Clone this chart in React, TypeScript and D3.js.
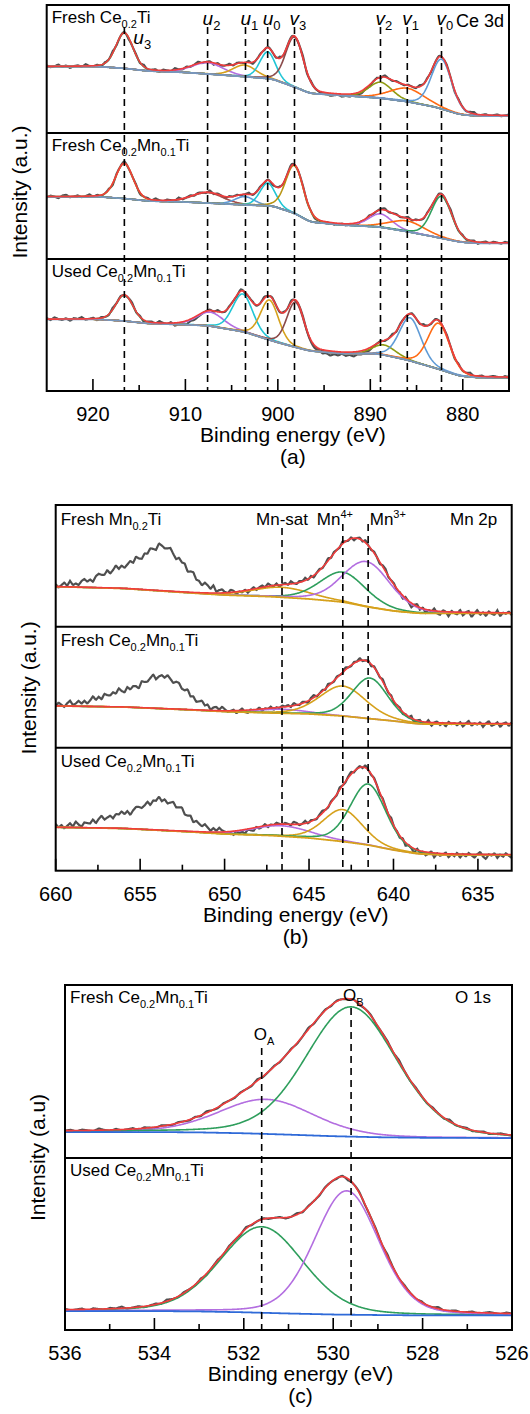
import React from 'react';
import * as d3 from 'd3';

const FONT = "'Liberation Sans', Arial, Helvetica, sans-serif";

// ---------------- (a) Ce 3d ----------------
const ceLineNames = ['u3', 'u2', 'u1', 'u0', 'v3', 'v2', 'v1', 'v0'];
const ceLineEnergy = [916.6, 907.6, 903.5, 901.1, 898.2, 888.9, 886.0, 882.3];
const ceMajor = [920, 910, 900, 890, 880];
const ceMinor = [915, 905, 895, 885];
const ceBgEnergy = [925, 919.5, 916.6, 914, 910, 907.6, 903.6, 900.6, 898.2, 896.5, 893, 889, 886, 883, 880.3, 878.5, 875];

const ceTiLabel = ['Fresh Ce', '0.2', 'Ti'];
const ceTiBg = [51.9, 51.9, 50.5, 48.4, 47.3, 46.1, 44.0, 42.2, 35.9, 30.9, 29.3, 27.3, 24.5, 20.3, 14.5, 13.3, 13.3];
const ceTiCenter = [916.6, 907.6, 903.6, 901.1, 898.2, 888.9, 886.0, 882.3];
const ceTiHeight = [27.6, 8.8, 9.1, 20.9, 39.0, 12.5, 10.5, 38.8];
const ceTiFwhm = [2.2, 4.0, 3.0, 2.0, 2.3, 3.0, 4.5, 2.6];
const ceTiNoise = [
  1, -1, 0, 2, -1, 1, -2, 0, 1, -1, 2, 0, -1, 1, -2, 1, 0, 2, -1, 0,
  1, -2, 0, 1, -1, 2, -1, 0, 1, -2, 1, 0, -1, 2, 0, -1, 1, -1, 0, 2,
  -1, 0, 1, -2, 1, -1, 0, 2, -1, 1, 0, -1, 2, -2, 0, 1, -1, 1, 0, -1,
  2, -1, 0, 1, -1, 0, 2, -2, 1, 0, -1, -2, -1, -3, -2, -1, -3, -2, -3, -1,
  -2, -3, -1, -2, 0, 1, -1, 2, 0, -1, 1, 0, -1, 1, 0, -1, 2, 0, 1, -1,
  0, 1, -1, 1, 0, -2, 1, 0, -1, 1, 2, -1, 0, 1, -1, 0, 1, -1, 0, 1,
];

const ceMnFreshLabel = ['Fresh Ce', '0.2', 'Mn', '0.1', 'Ti'];
const ceMnFreshBg = [49.4, 49.4, 48.0, 46.0, 45.2, 44.4, 42.9, 42.1, 36.3, 29.4, 27.0, 25.4, 21.7, 17.5, 13.5, 12.5, 12.5];
const ceMnFreshCenter = [916.6, 907.6, 903.6, 901.1, 898.2, 888.9, 886.0, 882.3];
const ceMnFreshHeight = [27.9, 8.2, 6.6, 18.0, 38.1, 10.6, 8.5, 33.3];
const ceMnFreshFwhm = [2.2, 4.0, 2.5, 2.0, 2.3, 3.0, 4.5, 2.6];
const ceMnFreshNoise = [
  -1, 1, 0, -2, 1, 2, -1, 0, 1, -1, 0, 2, -1, 1, -1, 0, 1, -2, 1, 0,
  2, -1, 0, 1, -2, 0, 1, -1, 2, 0, -1, 1, 0, -1, 2, -1, 0, 1, -1, 1,
  0, -1, 2, -1, 1, 0, -2, 1, 0, 1, -1, 0, 2, -1, 0, 1, -1, 1, -2, 0,
  1, -1, 0, 2, -1, 0, 1, -1, 0, -2, -1, -2, 0, -1, -2, -1, 0, -2, -1, -1,
  -2, 0, -1, 1, -1, 0, 1, 2, -1, 0, 1, -1, 0, 2, -1, 1, 0, -1, 1, 0,
  -1, 1, 0, -1, 2, 0, -1, 1, -1, 0, 1, -2, 0, 1, -1, 1, 0, -1, 1, 0,
];

const ceMnUsedLabel = ['Used Ce', '0.2', 'Mn', '0.1', 'Ti'];
const ceMnUsedBg = [54.3, 54.3, 53.0, 51.1, 50.2, 49.5, 44.7, 37.9, 33.3, 30.3, 28.4, 28.0, 23.5, 17.4, 11.4, 10.2, 10.1];
const ceMnUsedCenter = [916.6, 907.3, 903.8, 900.9, 898.1, 888.5, 885.7, 882.6];
const ceMnUsedHeight = [19.7, 10.6, 28.6, 30.3, 34.1, 7.6, 32.6, 34.8];
const ceMnUsedFwhm = [2.2, 3.5, 2.6, 2.3, 2.2, 3.0, 2.8, 2.8];
const ceMnUsedNoise = [
  1, -1, 2, 0, -1, 1, -2, 1, 0, 2, -1, 0, 1, -2, 1, 0, -1, 2, 0, 1,
  -1, 0, 2, -1, 1, -2, 0, 1, -1, 2, 0, -1, 1, -3, -2, -3, -4, -2, -3, -2,
  -1, 0, 1, -1, 2, 0, -1, 1, 0, -1, 2, -1, 0, 1, -1, 0, 2, -1, 1, 0,
  -1, 1, 0, 2, -1, 0, 1, -1, -2, -3, -2, -4, -3, -5, -3, -4, -2, -4, -3, -5,
  -3, -4, -2, -3, -1, 0, 1, -1, 0, 2, -1, 1, 0, -1, 1, 0, -1, 2, 0, -1,
  1, 0, -1, 1, 0, -2, 1, -1, 0, 2, -1, 0, 1, -1, 0, 1, 0, -1, 1, 0,
];

// ---------------- (b) Mn 2p ----------------
const mnLineNames = [['Mn-sat'], ['Mn', '4+'], ['Mn', '3+']];
const mnLineEnergy = [646.6, 643.0, 641.5];
const mnMajor = [660, 655, 650, 645, 640, 635];
const mnMinor = [657.5, 652.5, 647.5, 642.5, 637.5];
const mnBgEnergy = [660, 656, 652, 650, 647.3, 645, 643, 641.5, 640, 638.5, 637, 633];
const mnHumpEnergy = [656.3, 653.6];
const mnHumpFwhm = [3.2, 3.0];

const mnTiLabel = ['Fresh Mn', '0.2', 'Ti'];
const mnTiBg = [32.9, 31.4, 27.7, 26.0, 24.7, 22.8, 20.3, 16.2, 12.9, 11.0, 11.0, 11.0];
const mnTiHump = [12, 34];
const mnTiCenter = [646.6, 643.0, 641.6];
const mnTiHeight = [8.2, 24.7, 37.0];
const mnTiFwhm = [4.0, 3.2, 3.3];
const mnTiNoise = [
  1, -2, 0, 2, -1, 3, -1, 0, -2, 1, 2, -1, 0, -3, 1, 2, 0, -1, 2, -2,
  0, 3, -1, 1, -2, 0, 2, -1, 3, 0, -2, 1, -1, 2, 0, -2, 3, 1, -1, 0,
  2, -1, -3, 1, 0, 2, -2, 1, 3, -1, 0, -2, 2, 1, -1, 3, -2, 0, 1, -1,
  -2, 1, 0, -3, -1, -2, 0, -3, -1, 1, -2, 0, 1, -1, 2, 0, -1, 1, -2, 0,
  1, -1, 2, 0, -1, 1, 0, 2, -1, 1, -2, 0, 1, -1, 0, 2, -1, 1, 0, -1,
  2, 0, -1, 1, -2, 0, 1, -1, 2, 0, -1, 1, 0, -2, 1, 2, -1, 0, 1, -2,
  0, -3, 1, -1, -4, 0, 2, -2, 1, -3, 0, -1, 2, -2, -3, 1, 0, -4, 1, -1,
  -2, 2, -3, 0, 1, -4, -1, 2, -2, 0, -3, 1, -1, -2, 2, -3, 0, -1, 1, -2,
];

const mnCeFreshLabel = ['Fresh Ce', '0.2', 'Mn', '0.1', 'Ti'];
const mnCeFreshBg = [34.5, 33.6, 31.2, 29.8, 28.7, 27.9, 26.2, 24.1, 22.1, 19.6, 19.6, 19.6];
const mnCeFreshHump = [9, 25];
const mnCeFreshCenter = [646.6, 643.0, 641.4];
const mnCeFreshHeight = [3.3, 24.8, 33.6];
const mnCeFreshFwhm = [3.5, 3.2, 2.5];
const mnCeFreshNoise = [
  -1, 2, 0, -2, 1, 3, -1, 0, 2, -1, 1, -2, 0, 3, -1, 1, -2, 2, 0, -1,
  1, -1, 3, 0, -2, 2, -1, 1, 0, -3, 2, 0, -1, 1, 3, -2, 0, 1, -1, 2,
  0, -2, 1, 2, -1, 0, 3, -1, 1, -2, 0, 2, -1, 1, -3, 0, 1, -1, 2, 0,
  -2, -1, 0, -3, -1, 1, -2, -3, 0, -2, -1, 1, -2, 0, -1, 1, -2, 0, -1, 1,
  0, 1, -1, 2, 0, -1, 1, 0, -2, 1, 2, -1, 0, 1, -1, 2, 0, -1, 1, 0,
  -1, 2, 0, -1, 1, 0, 2, -1, 0, 1, -2, 1, 0, -1, 2, 0, -1, 1, -2, 0,
  1, -2, 0, -1, 2, -3, 0, 1, -2, -1, 2, -3, 0, 1, -2, 0, -3, 1, -1, 0,
  -2, 1, -3, 0, 2, -2, 0, -1, 1, -3, 0, 2, -2, -1, 1, -3, 0, 1, -2, 1,
];

const mnCeUsedLabel = ['Used Ce', '0.2', 'Mn', '0.1', 'Ti'];
const mnCeUsedBg = [35.3, 34.3, 31.5, 29.8, 28.6, 26.6, 23.7, 20.9, 16.8, 13.6, 12.8, 12.8];
const mnCeUsedHump = [8, 23];
const mnCeUsedCenter = [646.6, 643.0, 641.5];
const mnCeUsedHeight = [8.5, 26.0, 49.6];
const mnCeUsedFwhm = [4.0, 2.7, 2.5];
const mnCeUsedNoise = [
  2, -1, 1, -2, 0, 2, -1, 3, 0, -2, 1, 0, -1, 2, -2, 1, 3, -1, 0, 1,
  -2, 1, 0, 2, -1, 1, -3, 0, 2, 1, -1, 0, 2, -2, 1, 0, 3, -1, 1, -2,
  0, 2, -1, 1, 3, -1, 0, 2, -2, 1, 0, -1, 2, 0, -2, 1, -1, 2, 0, -1,
  -3, -2, -4, -1, -3, -2, -4, -1, -2, -3, 0, -2, -1, 1, -2, 0, -1, 1, 0, -1,
  1, 0, -1, 2, 1, -1, 0, 2, -1, 1, 0, -1, 1, 2, 0, -1, 1, 0, -1, 2,
  0, -1, 1, 2, -1, 0, 1, -1, 2, 0, -1, 1, 0, -2, 1, 0, -1, 2, -1, 0,
  -2, 1, -3, 0, -1, -4, 1, -2, 0, -3, -1, 1, -4, 0, -2, -1, 1, -3, 0, -2,
  1, -3, 0, -2, 1, -1, -3, 0, 2, -2, -4, 0, -1, 1, -3, 0, -2, 1, -1, -3,
];

// ---------------- (c) O 1s ----------------
const oLineNames = ['A', 'B'];
const oLineEnergy = [531.6, 529.6];
const oMajor = [536, 534, 532, 530, 528, 526];
const oMinor = [535, 533, 531, 529, 527];
const oBgEnergy = [536, 534, 533, 532, 531, 530, 529, 528, 526];

const oFreshLabel = ['Fresh Ce', '0.2', 'Mn', '0.1', 'Ti'];
const oFreshBg = [15, 15, 14.8, 14.3, 13.5, 12.6, 12, 11.7, 11.5];
const oFreshCenter = [531.5, 529.6];
const oFreshHeight = [20, 75];
const oFreshFwhm = [2.5, 2.4];
const oFreshNoise = [
  0, 1, -1, 1, 0, -1, 2, 0, -1, 1, -1, 0, 1, -2, 1, 0, -1, 1, 0, -1,
  1, 0, -1, 1, -1, 2, 0, -1, 1, 0, -1, 1, 0, -1, 2, -1, 0, 1, -1, 0,
  1, -1, 0, 2, -1, 0, 1, -1, 1, 0, -1, 1, -2, 0, 1, -1, 0, 1, -1, 2,
  0, -1, 1, 0, -1, 1, 0, -1, 2, -1, 0, 1, -1, 0, 1, -1, 0, 1, 0, -1,
];

const oUsedLabel = ['Used Ce', '0.2', 'Mn', '0.1', 'Ti'];
const oUsedBg = [11, 11, 10.8, 10.3, 9.6, 9.0, 8.7, 8.5, 8.5];
const oUsedCenter = [531.6, 529.7];
const oUsedHeight = [50, 72];
const oUsedFwhm = [2.2, 1.7];
const oUsedNoise = [
  1, -1, 0, 1, -2, 1, 0, -1, 1, 0, 2, -1, 0, 1, -1, 0, 1, -1, 2, 0,
  -1, 1, 0, -1, 1, -2, 0, 1, -1, 1, 0, -1, 2, -1, 0, 1, -1, 0, 1, -1,
  0, 2, -1, 1, 0, -1, 1, 0, -1, 1, -2, 0, 1, -1, 0, 1, -1, 2, 0, -1,
  1, 0, -1, 1, -1, 0, 2, -1, 0, 1, -1, 0, 1, -1, 0, 1, 0, -1, 1, 0,
];

// ---------------- styling ----------------
const C = {
  green: '#2e9e5c', purple: '#b36ee0', gold: '#d6a11c', darkGold: '#b8930f', cyan: '#1fc5d5',
  brown: '#8a4a4a', brownRed: '#a44c48', olive: '#8e9a12', orange: '#ff6a12', steel: '#5f9bd6',
  red: '#f03c3c', raw: '#4f4f4f', blue: '#2f6ad8', bgA: '#7897bd',
};

const peak = (e: number, c: number, h: number, w: number) => {
  const t = (e - c) / w;
  return h * (0.8 * Math.exp(-4 * Math.LN2 * t * t) + 0.2 / (1 + 4 * t * t));
};

type Sub = {
  label: string[]; bg: number[]; center: number[]; height: number[]; fwhm: number[];
  noise: number[]; colors: string[]; hump?: number[];
};

function Label({ x, y, segs, size, sub, shift, italicFirst }: any) {
  return (
    <text x={x} y={y} fontSize={size} fontFamily={FONT}>
      {segs.map((s: string, i: number) => (
        <tspan key={i} fontSize={i % 2 ? sub : size} dy={i === 0 ? 0 : i % 2 ? shift : -shift}
          fontStyle={italicFirst && i === 0 ? 'italic' : 'normal'}>{s}</tspan>
      ))}
    </text>
  );
}

function Panel({ cfg }: any) {
  const [hi, lo] = cfg.domain;
  const x = d3.scaleLinear().domain(cfg.domain).range([cfg.x0, cfg.x1]);
  const N = 700;
  const grid = d3.range(N + 1).map((i) => hi - (i * (hi - lo)) / N);
  const bottom = cfg.bands[cfg.bands.length - 1];
  const top = cfg.bands[0];

  const subs = cfg.subs.map((s: Sub, k: number) => {
    const y = d3.scaleLinear().domain([0, 100]).range([cfg.bands[k + 1], cfg.bands[k]]);
    const bgLin = d3.scaleLinear().domain(cfg.bgE).range(s.bg).clamp(true);
    const bg0 = grid.map((e) => bgLin(e));
    const win = Math.round(N * 0.012);
    const bg = bg0.map((_, i) => d3.mean(bg0.slice(Math.max(0, i - win), Math.min(N, i + win) + 1)) as number);
    const comps = s.center.map((c, j) => grid.map((e, i) => bg[i] + peak(e, c, s.height[j], s.fwhm[j])));
    const env = grid.map((e, i) => bg[i] + d3.sum(s.center, (c, j) => peak(e, c, s.height[j], s.fwhm[j])));
    const nE = s.noise.map((_, i) => hi - (i * (hi - lo)) / (s.noise.length - 1));
    const nz = d3.scaleLinear().domain(nE).range(s.noise);
    const raw = grid.map((e, i) => {
      const h = s.hump ? d3.sum(cfg.humpE, (c: number, j: number) => peak(e, c, s.hump![j], cfg.humpW[j])) : 0;
      return env[i] + h + nz(e) * cfg.noiseAmp;
    });
    const line = d3.line<number>().x((_, i) => x(grid[i])).y((v) => y(v));
    return { s, k, line, bg, comps, env, raw };
  });

  const cx = (cfg.x0 + cfg.x1) / 2 + cfg.titleShift;

  return (
    <g>
      {subs.map(({ s, k, line, bg, comps, env, raw }: any) => (
        <g key={k}>
          <path d={line(raw)} fill="none" stroke={C.raw} strokeWidth={cfg.rawWidth} />
          {comps.map((cv: number[], j: number) => (
            <path key={j} d={line(cv)} fill="none" stroke={s.colors[j]} strokeWidth={1.6} />
          ))}
          <path d={line(bg)} fill="none" stroke={cfg.bgColor} strokeWidth={1.8} />
          <path d={line(env)} fill="none" stroke={C.red} strokeWidth={1.6} />
          <Label x={cfg.x0 + 5} y={cfg.bands[k] + cfg.labelDy} segs={s.label} size={17} sub={11} shift={5} />
        </g>
      ))}

      {cfg.lineE.map((e: number, i: number) => (
        <line key={i} x1={x(e)} x2={x(e)} y1={cfg.dashTop[i]} y2={bottom} stroke="#000"
          strokeWidth={1.6} strokeDasharray="7,5" />
      ))}

      <rect x={cfg.x0} y={top} width={cfg.x1 - cfg.x0} height={bottom - top} fill="none" stroke="#000" strokeWidth={2} />
      {cfg.bands.slice(1, -1).map((b: number, i: number) => (
        <line key={i} x1={cfg.x0} x2={cfg.x1} y1={b} y2={b} stroke="#000" strokeWidth={2} />
      ))}

      {cfg.major.map((t: number) => (
        <g key={'M' + t}>
          <line x1={x(t)} x2={x(t)} y1={bottom} y2={bottom - 12} stroke="#000" strokeWidth={1.6} />
          <text x={x(t)} y={bottom + 30} textAnchor="middle" fontSize={20} fontFamily={FONT}>{t}</text>
        </g>
      ))}
      {cfg.minor.map((t: number) => (
        <line key={'m' + t} x1={x(t)} x2={x(t)} y1={bottom} y2={bottom - 6} stroke="#000" strokeWidth={1.6} />
      ))}

      <text x={cx} y={bottom + 51} textAnchor="middle" fontSize={21} fontFamily={FONT}>Binding energy (eV)</text>
      <text x={cx} y={bottom + 73} textAnchor="middle" fontSize={21} fontFamily={FONT}>{cfg.tag}</text>
      <text transform={`translate(${cfg.x0 - 20},${(top + bottom) / 2 - cfg.yLabelShift}) rotate(-90)`}
        textAnchor="middle" fontSize={21} fontFamily={FONT}>{cfg.yLabel}</text>
      {cfg.extra(x)}
    </g>
  );
}

const panelA = {
  x0: 46.7, x1: 509, bands: [5, 133, 259, 391], domain: [925, 875], bgE: ceBgEnergy,
  major: ceMajor, minor: ceMinor, lineE: ceLineEnergy, dashTop: ceLineEnergy.map(() => 27),
  noiseAmp: 0.7, rawWidth: 2.1, bgColor: C.bgA, labelDy: 18, titleShift: 15, yLabelShift: 6,
  tag: '(a)', yLabel: 'Intensity (a.u.)',
  subs: [
    { label: ceTiLabel, bg: ceTiBg, center: ceTiCenter, height: ceTiHeight, fwhm: ceTiFwhm, noise: ceTiNoise,
      colors: [C.green, C.purple, C.gold, C.cyan, C.brown, C.olive, C.orange, C.steel] },
    { label: ceMnFreshLabel, bg: ceMnFreshBg, center: ceMnFreshCenter, height: ceMnFreshHeight, fwhm: ceMnFreshFwhm, noise: ceMnFreshNoise,
      colors: [C.darkGold, C.brownRed, C.steel, C.cyan, C.darkGold, C.purple, C.orange, C.green] },
    { label: ceMnUsedLabel, bg: ceMnUsedBg, center: ceMnUsedCenter, height: ceMnUsedHeight, fwhm: ceMnUsedFwhm, noise: ceMnUsedNoise,
      colors: [C.green, C.purple, C.cyan, C.gold, C.brown, C.olive, C.steel, C.orange] },
  ],
  extra: (x: any) => (
    <g>
      {ceLineNames.map((n, i) => (
        <Label key={n} x={x(ceLineEnergy[i]) + (i === 0 ? 9 : -5)} y={i === 0 ? 44 : 25}
          segs={[n[0], n[1]]} size={19} sub={13} shift={5} italicFirst />
      ))}
      <text x={456} y={27} fontSize={18} fontFamily={FONT}>Ce 3d</text>
    </g>
  ),
};

const panelB = {
  x0: 55.7, x1: 511.7, bands: [505, 626.7, 747.7, 870.7], domain: [660, 633], bgE: mnBgEnergy,
  humpE: mnHumpEnergy, humpW: mnHumpFwhm,
  major: mnMajor, minor: mnMinor, lineE: mnLineEnergy, dashTop: [528, 524, 524],
  noiseAmp: 0.95, rawWidth: 2.2, bgColor: C.gold, labelDy: 19.5, titleShift: 12, yLabelShift: 0,
  tag: '(b)', yLabel: 'Intensity (a.u.)',
  subs: [
    { label: mnTiLabel, bg: mnTiBg, center: mnTiCenter, height: mnTiHeight, fwhm: mnTiFwhm, noise: mnTiNoise, hump: mnTiHump,
      colors: [C.gold, C.green, C.purple] },
    { label: mnCeFreshLabel, bg: mnCeFreshBg, center: mnCeFreshCenter, height: mnCeFreshHeight, fwhm: mnCeFreshFwhm, noise: mnCeFreshNoise, hump: mnCeFreshHump,
      colors: [C.purple, C.gold, C.green] },
    { label: mnCeUsedLabel, bg: mnCeUsedBg, center: mnCeUsedCenter, height: mnCeUsedHeight, fwhm: mnCeUsedFwhm, noise: mnCeUsedNoise, hump: mnCeUsedHump,
      colors: [C.purple, C.gold, C.green] },
  ],
  extra: (x: any) => (
    <g>
      <text x={x(mnLineEnergy[0])} y={525} textAnchor="middle" fontSize={17} fontFamily={FONT}>{mnLineNames[0][0]}</text>
      <Label x={x(mnLineEnergy[1]) - 26} y={525} segs={mnLineNames[1]} size={17} sub={11} shift={-7} />
      <Label x={x(mnLineEnergy[2]) + 1.6} y={525} segs={mnLineNames[2]} size={17} sub={11} shift={-7} />
      <text x={450} y={525} fontSize={17} fontFamily={FONT}>Mn 2p</text>
    </g>
  ),
};

const panelC = {
  x0: 65, x1: 512, bands: [985, 1158, 1330], domain: [536, 526], bgE: oBgEnergy,
  major: oMajor, minor: oMinor, lineE: oLineEnergy, dashTop: [1048, 1008],
  noiseAmp: 0.5, rawWidth: 2.1, bgColor: C.blue, labelDy: 18, titleShift: 12, yLabelShift: 0,
  tag: '(c)', yLabel: 'Intensity (a.u)',
  subs: [
    { label: oFreshLabel, bg: oFreshBg, center: oFreshCenter, height: oFreshHeight, fwhm: oFreshFwhm, noise: oFreshNoise,
      colors: [C.purple, C.green] },
    { label: oUsedLabel, bg: oUsedBg, center: oUsedCenter, height: oUsedHeight, fwhm: oUsedFwhm, noise: oUsedNoise,
      colors: [C.green, C.purple] },
  ],
  extra: (x: any) => (
    <g>
      <Label x={x(oLineEnergy[0]) - 8} y={1040} segs={['O', oLineNames[0]]} size={17} sub={11} shift={5} />
      <Label x={x(oLineEnergy[1]) - 8} y={1001} segs={['O', oLineNames[1]]} size={17} sub={11} shift={5} />
      <text x={455} y={1003} fontSize={17} fontFamily={FONT}>O 1s</text>
    </g>
  ),
};

export default function App() {
  return (
    <svg width={530} height={1414} style={{ position: 'absolute', left: 0, top: 0, background: '#fff' }}>
      <rect width={530} height={1414} fill="#fff" />
      <Panel cfg={panelA} />
      <Panel cfg={panelB} />
      <Panel cfg={panelC} />
    </svg>
  );
}
